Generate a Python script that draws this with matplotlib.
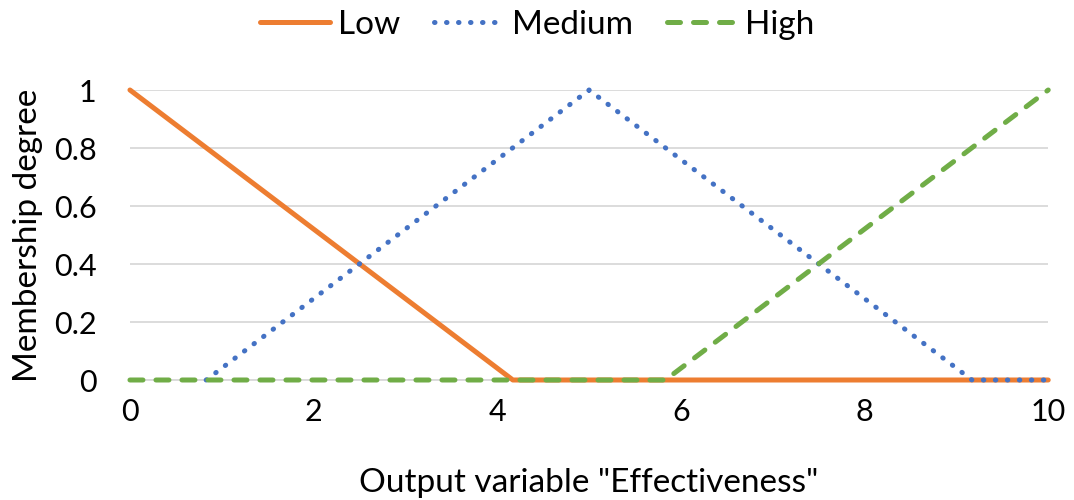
import matplotlib.pyplot as plt

plt.rcParams['font.family'] = ['Lato', 'DejaVu Sans']

# membership functions (breakpoints)
low_x = [0, 4.17, 10]
low_y = [1, 0, 0]
med_x = [0.83, 5, 9.17, 10]
med_y = [0, 1, 0, 0]
high_x = [0, 5.83, 10]
high_y = [0, 0, 1]

xticks = [0, 2, 4, 6, 8, 10]
yticks = [0, 0.2, 0.4, 0.6, 0.8, 1]
ytick_labels = ["0", "0.2", "0.4", "0.6", "0.8", "1"]

fig = plt.figure(figsize=(10.74, 5.0), dpi=100)
ax = fig.add_axes([0.121, 0.24, 0.855, 0.58])

ax.plot(low_x, low_y, color='#ED7D31', lw=3.6, solid_capstyle='round',
        clip_on=False, zorder=3, label="Low")
ax.plot(med_x, med_y, color='#4472C4', lw=3.6, linestyle=(0, (0.1, 2.3)),
        dash_capstyle='round', clip_on=False, zorder=4, label="Medium")
ax.plot(high_x, high_y, color='#70AD47', lw=3.6, linestyle=(0, (2.6, 2.6)),
        dash_capstyle='round', clip_on=False, zorder=5, label="High")

ax.set_xlim(0, 10)
ax.set_ylim(0, 1)
ax.set_xticks(xticks)
ax.set_yticks(yticks)
ax.set_yticklabels(ytick_labels)
ax.tick_params(length=0, labelsize=22, pad=13)
ax.tick_params(axis='y', pad=24)
ax.grid(axis='y', color='#D9D9D9', lw=1.3)
ax.set_axisbelow(True)
for s in ['top', 'right', 'left']:
    ax.spines[s].set_visible(False)
ax.spines['bottom'].set_color('#D9D9D9')
ax.spines['bottom'].set_linewidth(1.3)
ax.spines['bottom'].set_zorder(1)

ax.set_xlabel('Output variable "Effectiveness"', fontsize=24, labelpad=30)
ax.set_ylabel("Membership degree", fontsize=24, labelpad=8)

fig.legend(loc='upper center', bbox_to_anchor=(0.5, 1.04), ncol=3, frameon=False,
           fontsize=24, handlelength=2.1, columnspacing=1.0, handletextpad=0.25)

fig.savefig("out.png", dpi=100)
